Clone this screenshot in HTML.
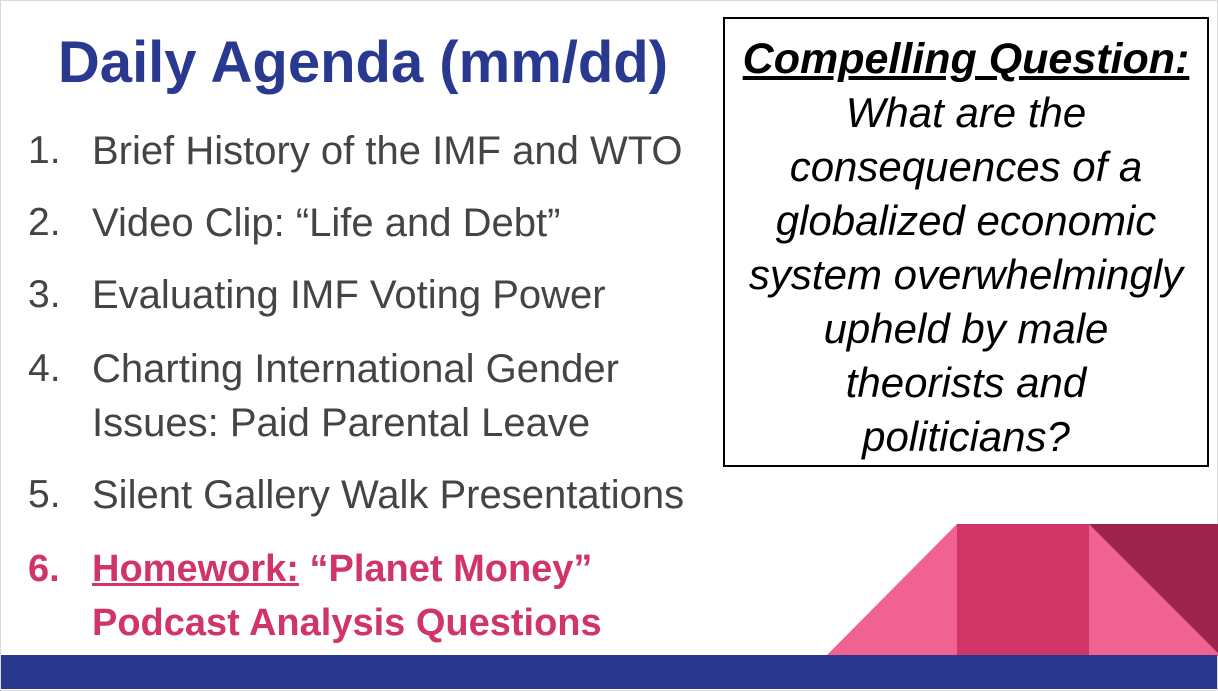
<!DOCTYPE html>
<html><head><meta charset="utf-8"><style>
body{margin:0;width:1218px;height:691px;overflow:hidden;background:#fff;font-family:"Liberation Sans",sans-serif;position:relative}
#frame{position:absolute;left:0;top:0;width:1216px;height:689px;border:1px solid #d8d8d8}
.t{position:absolute;white-space:nowrap}
.it{position:absolute;left:0;font-size:40px;color:#444;white-space:nowrap;line-height:54px}
.it .n{position:absolute;left:28px;font-size:39px}
.it .x{position:absolute;left:92px}
.b{font-size:38px !important}
.b .n{font-size:38px}
#box{position:absolute;left:723px;top:17px;width:482px;height:446px;border:2px solid #000;text-align:center}
#box div{font-style:italic;font-size:42px;line-height:54px;color:#000;white-space:nowrap;margin-left:-10px;margin-right:-10px}
</style></head><body>
<div id="frame"></div>
<div class="t" style="left:0;width:726px;text-align:center;top:29px;font-size:58px;font-weight:bold;color:#2a3990">Daily Agenda (mm/dd)</div>
<div>
<div class="it" style="top:124px"><span class="n">1.</span><span class="x">Brief History of the IMF and WTO</span></div>
<div class="it" style="top:196px"><span class="n">2.</span><span class="x">Video Clip: “Life and Debt”</span></div>
<div class="it" style="top:268px"><span class="n">3.</span><span class="x">Evaluating IMF Voting Power</span></div>
<div class="it" style="top:342px"><span class="n">4.</span><span class="x">Charting International Gender</span></div>
<div class="it" style="top:396px"><span class="x">Issues: Paid Parental Leave</span></div>
<div class="it" style="top:468px"><span class="n">5.</span><span class="x">Silent Gallery Walk Presentations</span></div>
<div class="it b" style="top:542px;color:#d13467;font-weight:bold"><span class="n">6.</span><span class="x"><u>Homework:</u> “Planet Money”</span></div>
<div class="it b" style="top:596px;color:#d13467;font-weight:bold"><span class="x">Podcast Analysis Questions</span></div>
</div>
<div id="box">
<div style="font-weight:bold;text-decoration:underline;font-size:43px;margin-top:13px">Compelling Question:</div>
<div>What are the</div><div>consequences of a</div><div>globalized economic</div><div>system overwhelmingly</div><div>upheld by male</div><div>theorists and</div><div>politicians?</div>
</div>
<svg style="position:absolute;left:0;top:0" width="1218" height="691">
<polygon points="826,656 957,524 957,656" fill="#f06292"/>
<rect x="957" y="524" width="132" height="132" fill="#d13467"/>
<polygon points="1089,524 1218,524 1218,656 1089,656" fill="#f06292"/>
<polygon points="1089,524 1218,524 1218,653" fill="#9c234c"/>
<rect x="1" y="655" width="1216" height="34" fill="#29388c"/>
</svg>
</body></html>
